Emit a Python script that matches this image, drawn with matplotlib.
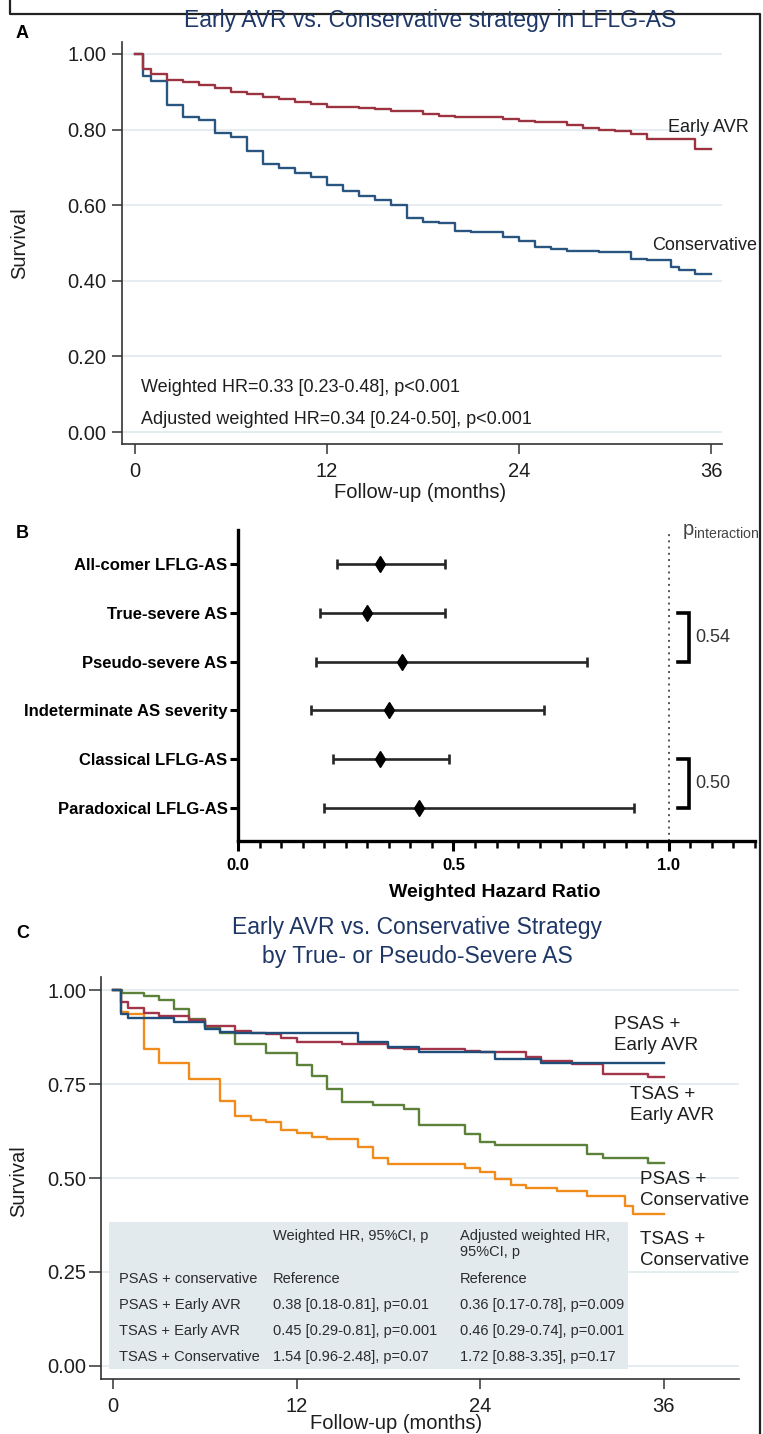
import matplotlib
matplotlib.use("Agg")
import matplotlib.pyplot as plt
from matplotlib.patches import Rectangle
from matplotlib.lines import Line2D
from matplotlib.ticker import MultipleLocator, FormatStrFormatter

plt.rcParams['font.family'] = ['Liberation Sans', 'DejaVu Sans']

# ---------------- data ----------------
# Panel A: Kaplan-Meier (weighted) survival
a_title = "Early AVR vs. Conservative strategy in LFLG-AS"
a_early_t = [0, 0.5, 1, 2, 3, 4, 5, 6, 7, 8, 9, 10, 11, 12, 14, 15, 16, 18, 19, 20,
             23, 24, 25, 27, 28, 29, 30, 31, 32, 35, 36]
a_early_s = [1.0, 0.960, 0.947, 0.932, 0.926, 0.917, 0.909, 0.899, 0.895, 0.886, 0.882,
             0.873, 0.868, 0.860, 0.857, 0.854, 0.849, 0.842, 0.836, 0.833, 0.829, 0.824,
             0.820, 0.813, 0.803, 0.800, 0.797, 0.789, 0.774, 0.749, 0.749]
a_cons_t = [0, 0.5, 1, 2, 3, 4, 5, 6, 7, 8, 9, 10, 11, 12, 13, 14, 15, 16, 17, 18, 19,
            20, 21, 23, 24, 25, 26, 27, 29, 31, 32, 33.5, 34, 35, 36]
a_cons_s = [1.0, 0.942, 0.929, 0.864, 0.832, 0.825, 0.790, 0.780, 0.744, 0.709, 0.698,
            0.684, 0.675, 0.653, 0.638, 0.625, 0.614, 0.601, 0.566, 0.556, 0.553, 0.532,
            0.529, 0.517, 0.505, 0.490, 0.484, 0.478, 0.475, 0.458, 0.455, 0.437, 0.428,
            0.417, 0.417]
a_series_labels = ["Early AVR", "Conservative"]
a_hr_texts = ["Weighted HR=0.33 [0.23-0.48], p<0.001",
              "Adjusted weighted HR=0.34 [0.24-0.50], p<0.001"]
x_ticks = [0, 12, 24, 36]
a_y_ticks = [0.0, 0.2, 0.4, 0.6, 0.8, 1.0]

# Panel B: forest plot
b_labels = ["All-comer LFLG-AS", "True-severe AS", "Pseudo-severe AS",
            "Indeterminate AS severity", "Classical LFLG-AS", "Paradoxical LFLG-AS"]
b_hr = [0.33, 0.30, 0.38, 0.35, 0.33, 0.42]
b_lo = [0.23, 0.19, 0.18, 0.17, 0.22, 0.20]
b_hi = [0.48, 0.48, 0.81, 0.71, 0.49, 0.92]
b_pairs = [(1, 2), (4, 5)]
b_p_interaction = ["0.54", "0.50"]
b_x_ticks = [0.0, 0.5, 1.0]

# Panel C: survival by group
c_title = "Early AVR vs. Conservative Strategy\nby True- or Pseudo-Severe AS"
c_tscons_t = [0, 0.5, 1, 2, 3, 5, 7, 8, 9, 10, 11, 12, 13, 14, 16, 17, 18, 23, 24, 25,
              26, 27, 29, 31, 33.5, 34, 36]
c_tscons_s = [1.0, 0.941, 0.935, 0.843, 0.805, 0.762, 0.706, 0.666, 0.654, 0.649, 0.628,
              0.621, 0.610, 0.604, 0.582, 0.552, 0.536, 0.526, 0.516, 0.497, 0.482, 0.473,
              0.466, 0.451, 0.426, 0.403, 0.403]
c_pscons_t = [0, 0.6, 2, 3, 4, 5, 6, 7, 8, 10, 12, 13, 14, 15, 17, 19, 20, 23, 24, 25,
              31, 32, 35, 36]
c_pscons_s = [1.0, 0.993, 0.984, 0.973, 0.950, 0.923, 0.902, 0.886, 0.856, 0.832, 0.801,
              0.771, 0.738, 0.703, 0.693, 0.683, 0.640, 0.616, 0.597, 0.588, 0.563, 0.552,
              0.540, 0.540]
c_tsavr_t = [0, 0.5, 1, 2, 3, 5, 6, 8, 9, 10, 11, 12, 15, 18, 19, 23, 24, 27, 28, 30,
             32, 35, 36]
c_tsavr_s = [1.0, 0.969, 0.951, 0.938, 0.932, 0.920, 0.904, 0.892, 0.886, 0.882, 0.872,
             0.863, 0.856, 0.847, 0.843, 0.838, 0.836, 0.823, 0.811, 0.802, 0.777, 0.769,
             0.769]
c_psavr_t = [0, 0.5, 1, 4, 6, 7, 8, 9, 16, 18, 20, 25, 28, 36]
c_psavr_s = [1.0, 0.935, 0.925, 0.916, 0.896, 0.889, 0.886, 0.885, 0.863, 0.849, 0.836,
             0.816, 0.807, 0.807]
c_series_labels = ["PSAS +\nEarly AVR", "TSAS +\nEarly AVR",
                   "PSAS +\nConservative", "TSAS +\nConservative"]
c_y_ticks = [0.0, 0.25, 0.5, 0.75, 1.0]
c_table_rows = ["PSAS + conservative", "PSAS + Early AVR", "TSAS + Early AVR",
                "TSAS + Conservative"]
c_table_headers = ["Weighted HR, 95%CI, p", "Adjusted weighted HR,\n95%CI, p"]
c_table_weighted = ["Reference", "0.38 [0.18-0.81], p=0.01", "0.45 [0.29-0.81], p=0.001",
                    "1.54 [0.96-2.48], p=0.07"]
c_table_adjusted = ["Reference", "0.36 [0.17-0.78], p=0.009", "0.46 [0.29-0.74], p=0.001",
                    "1.72 [0.88-3.35], p=0.17"]

# ---------------- styling ----------------
W, H = 763, 1434
NAVY = '#1f3766'
RED = '#9b3340'
BLUE = '#2a5580'
C_BLUE = '#1f4e7a'
C_RED = '#a3354a'
C_GREEN = '#5b8238'
C_ORANGE = '#f08c1c'
GRID = '#e5edf0'
TXT = '#1e1e1e'

fig = plt.figure(figsize=(W / 100, H / 100), dpi=100)


def box(x0, y0, x1, y1):
    return [x0 / W, 1 - y1 / H, (x1 - x0) / W, (y1 - y0) / H]


def P(x, y):
    return (x / W, 1 - y / H)


def km_axes(ax, yt):
    for s in ['top', 'right']:
        ax.spines[s].set_visible(False)
    for s in ['left', 'bottom']:
        ax.spines[s].set_linewidth(1.2)
        ax.spines[s].set_color('#333333')
    ax.set_xticks(x_ticks)
    ax.set_yticks(yt)
    ax.yaxis.set_major_formatter(FormatStrFormatter('%.2f'))
    ax.tick_params(axis='both', labelsize=14.5, colors='#333333', labelcolor=TXT,
                   width=1.1, length=7)
    ax.tick_params(axis='x', pad=6)
    ax.tick_params(axis='y', pad=4)
    ax.yaxis.grid(True, color=GRID, lw=1.4)
    ax.set_axisbelow(True)


# ---------------- Panel A ----------------
axA = fig.add_axes(box(122, 42, 722, 444))
axA.step(a_cons_t, a_cons_s, where='post', color=BLUE, lw=1.7)
axA.step(a_early_t, a_early_s, where='post', color=RED, lw=1.7)
axA.set_xlim(-0.8125, 36.69)
axA.set_ylim(-0.0317, 1.0317)
km_axes(axA, a_y_ticks)
axA.set_xlabel("Follow-up (months)", fontsize=14.5, color=TXT, va='center')
axA.xaxis.set_label_coords(0.497, -0.12)
axA.set_ylabel("Survival", fontsize=14.5, color=TXT, va='center')
axA.yaxis.set_label_coords(-0.17, 0.5)

fig.text(*P(430, 20), a_title, ha='center', va='center', fontsize=16.5, color=NAVY)
fig.text(*P(16, 33), "A", ha='left', va='center', fontsize=13, fontweight='bold')
fig.text(*P(668, 127), a_series_labels[0], ha='left', va='center', fontsize=13, color=TXT)
fig.text(*P(652, 245), a_series_labels[1], ha='left', va='center', fontsize=13, color=TXT)
fig.text(*P(141, 387), a_hr_texts[0], ha='left', va='center', fontsize=13, color=TXT)
fig.text(*P(141, 419), a_hr_texts[1], ha='left', va='center', fontsize=13, color=TXT)

# ---------------- Panel B ----------------
axB = fig.add_axes(box(238, 530, 755, 841))
yb = list(range(len(b_labels)))
xerr = [[h - l for h, l in zip(b_hr, b_lo)], [u - h for h, u in zip(b_hr, b_hi)]]
axB.errorbar(b_hr, yb, xerr=xerr, fmt='none', ecolor='#262626', elinewidth=1.9,
             capsize=3.6, capthick=1.9, zorder=2)
axB.plot(b_hr, yb, 'd', color='black', ms=8.5, zorder=3)
axB.axvline(1.0, ls=(0, (1, 2.2)), color='#555555', lw=1.4, zorder=1)
axB.set_xlim(0, 1.2)
axB.set_ylim(5.676, -0.697)
for s in ['top', 'right']:
    axB.spines[s].set_visible(False)
for s in ['left', 'bottom']:
    axB.spines[s].set_linewidth(2.4)
axB.set_yticks(yb)
axB.set_yticklabels(b_labels, fontsize=12, fontweight='bold')
axB.set_xticks(b_x_ticks)
axB.set_xticklabels([f"{v:.1f}" for v in b_x_ticks], fontsize=12, fontweight='bold')
axB.xaxis.set_minor_locator(MultipleLocator(0.05))
axB.tick_params(axis='y', length=6, width=2.2, pad=1.5)
axB.tick_params(axis='x', which='major', length=7, width=2.2, pad=5)
axB.tick_params(axis='x', which='minor', length=5, width=1.8)
axB.set_xlabel("Weighted Hazard Ratio", fontsize=14, fontweight='bold', va='center')
axB.xaxis.set_label_coords(0.497, -0.167)

for (y0, y1), ptxt in zip(b_pairs, b_p_interaction):
    axB.plot([1.021, 1.047, 1.047, 1.021], [y0, y0, y1, y1], color='black', lw=2.6,
             clip_on=False, solid_joinstyle='miter')
    axB.text(1.062, (y0 + y1) / 2, ptxt, ha='left', va='center', fontsize=13,
             color='#333333', clip_on=False)

fig.text(*P(682, 531), r'$\mathregular{p_{interaction}}$', ha='left', va='center',
         fontsize=14.5, color='#444444')
fig.text(*P(16, 533), "B", ha='left', va='center', fontsize=13, fontweight='bold')

# ---------------- Panel C ----------------
axC = fig.add_axes(box(101, 977, 739, 1379))
axC.step(c_tscons_t, c_tscons_s, where='post', color=C_ORANGE, lw=1.7)
axC.step(c_pscons_t, c_pscons_s, where='post', color=C_GREEN, lw=1.7)
axC.step(c_tsavr_t, c_tsavr_s, where='post', color=C_RED, lw=1.7)
axC.step(c_psavr_t, c_psavr_s, where='post', color=C_BLUE, lw=1.7)
axC.set_xlim(-0.784, 40.92)
axC.set_ylim(-0.0346, 1.0346)
km_axes(axC, c_y_ticks)
axC.tick_params(axis='y', length=9, pad=1.5)
axC.set_xlabel("Follow-up (months)", fontsize=14.5, color=TXT, va='center')
axC.xaxis.set_label_coords(0.462, -0.11)
axC.set_ylabel("Survival", fontsize=14.5, color=TXT, va='center')
axC.yaxis.set_label_coords(-0.1285, 0.4925)

# table box
axC.add_patch(Rectangle((-0.26, -0.008), 33.92, 0.391, facecolor='#e3eaee',
                        edgecolor='none', zorder=1.5))
tfs = 10.5
tcol = '#2b2b2b'
fig.text(*P(273, 1236), c_table_headers[0], ha='left', va='center', fontsize=tfs, color=tcol)
fig.text(*P(460, 1244), c_table_headers[1], ha='left', va='center', fontsize=tfs, color=tcol,
         linespacing=1.25)
for i, (r, wv, av) in enumerate(zip(c_table_rows, c_table_weighted, c_table_adjusted)):
    yy = 1279 + 26 * i
    fig.text(*P(119, yy), r, ha='left', va='center', fontsize=tfs, color=tcol)
    fig.text(*P(273, yy), wv, ha='left', va='center', fontsize=tfs, color=tcol)
    fig.text(*P(460, yy), av, ha='left', va='center', fontsize=tfs, color=tcol)

fig.text(*P(417, 942), c_title, ha='center', va='center', fontsize=16.5, color=NAVY,
         linespacing=1.3)
fig.text(*P(16, 933), "C", ha='left', va='center', fontsize=13, fontweight='bold')
c_label_pos = [(614, 1035), (630, 1105), (640, 1190), (640, 1250)]
for lab, (x, y) in zip(c_series_labels, c_label_pos):
    fig.text(*P(x, y), lab, ha='left', va='center', fontsize=13.5, color=TXT,
             linespacing=1.3)

# outer border
fig.add_artist(Line2D([10 / W, 10 / W, 760 / W, 760 / W],
                      [1 + 10 / H, 1 - 14 / H, 1 - 14 / H, -0.01],
                      transform=fig.transFigure, color='#222222', lw=1.6))

fig.savefig("out.png", dpi=100)
